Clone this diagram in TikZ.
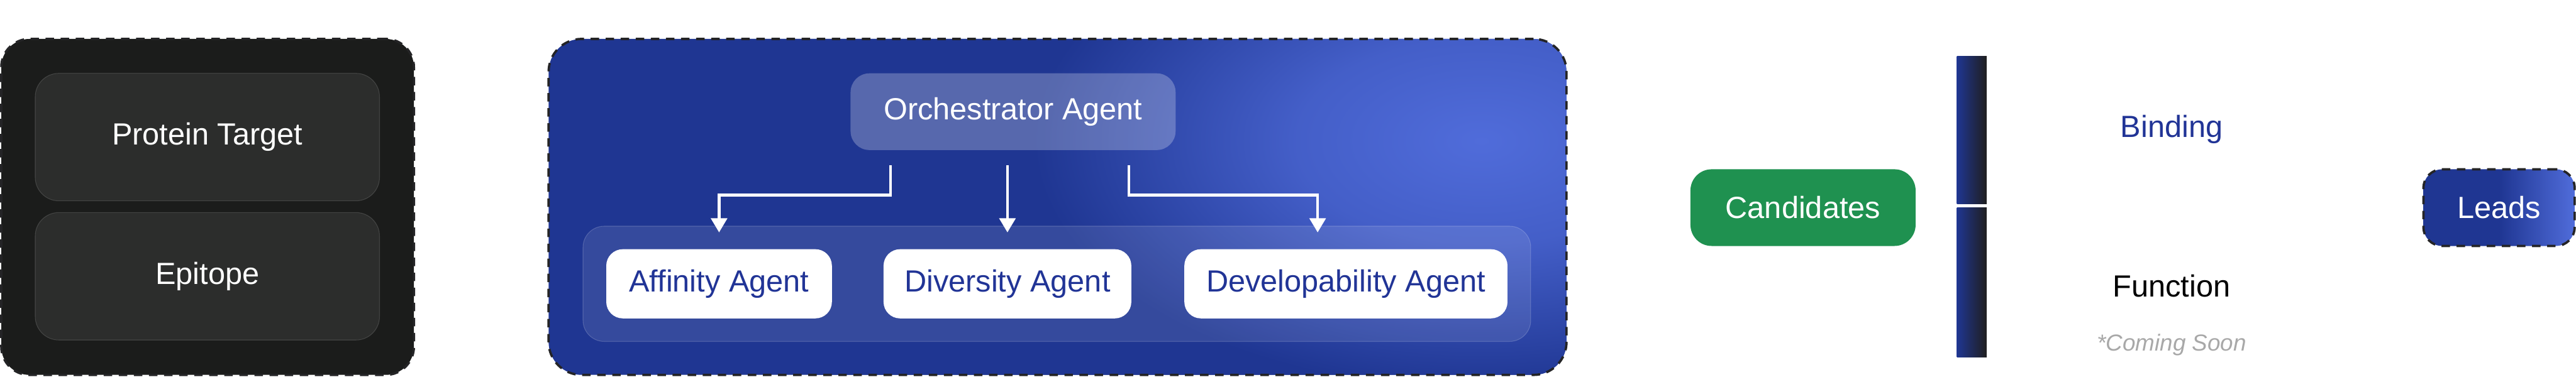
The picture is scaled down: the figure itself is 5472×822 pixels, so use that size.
\documentclass[tikz,border=0pt]{standalone}
\usepackage{fontspec}
\setmainfont{Liberation Sans}
\usetikzlibrary{arrows.meta, calc}
\definecolor{bleunuit}{RGB}{31,54,146}
\definecolor{bleuclair}{RGB}{80,108,218}
\definecolor{bleuencre}{RGB}{33,52,150}
\definecolor{noirdoux}{RGB}{27,28,27}
\definecolor{vertdoux}{RGB}{31,145,80}
\definecolor{trait}{RGB}{36,36,38}
\definecolor{grisdoux}{RGB}{168,168,168}
\pgfdeclareradialshading{lueur}{\pgfpoint{0bp}{0bp}}{color(0bp)=(bleuclair); color(5bp)=(bleuclair!75!bleunuit); color(12bp)=(bleunuit); color(50bp)=(bleunuit)}

\begin{document}
\begin{tikzpicture}[x=0.01cm, y=-0.01cm, font=\fontsize{18.5}{22}\selectfont,
    cadre/.style={draw=trait, line width=1.4pt, dash pattern=on 0.18cm off 0.14cm, inner sep=0pt},
    bloc/.style={fill=white, fill opacity=0.08, text opacity=1, draw=white, draw opacity=0.14,
      rounded corners=0.5cm, text=white, minimum width=7.31cm, minimum height=2.71cm},
    agent/.style={fill=white, rounded corners=0.35cm, text=bleuencre, minimum height=1.47cm},
    barre/.style={shade, left color=bleunuit, right color=black!88, minimum width=0.63cm, inner sep=0pt},
    fleche/.style={draw=white, line width=1.6pt, -{Triangle[width=0.34cm,length=0.3cm]}}]
  \useasboundingbox (0,0) rectangle (5472,822);
  % inputs
  \node[cadre, fill=noirdoux, rounded corners=0.6cm, minimum width=8.76cm, minimum height=7.14cm] (inputs) at (441,440) {};
  \node[bloc] (target) at (440.5,291.5) {Protein Target};
  \node[bloc] (epitope) at (440.5,587.5) {Epitope};
  % evolution loop
  \node[cadre, fill=bleunuit, rounded corners=0.7cm, minimum width=21.61cm, minimum height=7.14cm,
    path picture={\shade[shading=lueur]
      ([yshift=-2.17cm]path picture bounding box.north east) ellipse (18cm and 11cm);}] (loop) at (2246.5,440) {};
  \node[fill=white, fill opacity=0.1, draw=white, draw opacity=0.18, rounded corners=0.45cm,
    minimum width=20.12cm, minimum height=2.45cm] (team) at (2245,603.5) {};
  \node[fill=white, fill opacity=0.25, text opacity=1, text=white, rounded corners=0.4cm,
    minimum width=6.90cm, minimum height=1.63cm] (orch) at (2152,237.5) {Orchestrator Agent};
  \node[agent, minimum width=4.79cm] (aff) at (1527.5,603.5) {Affinity Agent};
  \node[agent, minimum width=5.26cm] (div) at (2140,603.5) {Diversity Agent};
  \node[agent, minimum width=6.86cm] (dev) at (2859,603.5) {Developability Agent};
  \draw[fleche, shorten <=0.32cm, shorten >=0.35cm] ([xshift=-2.6cm]orch.south) -- ++(0,95) -| (aff.north);
  \draw[fleche, shorten <=0.32cm, shorten >=0.35cm] (div.north |- orch.south) -- (div.north);
  \draw[fleche, shorten <=0.32cm, shorten >=0.35cm] ([xshift=2.46cm]orch.south) -- ++(0,95) -| ([xshift=-0.6cm]dev.north);
  % screen
  \node[fill=vertdoux, text=white, rounded corners=0.45cm, minimum width=4.78cm, minimum height=1.63cm] (cand) at (3830,441.5) {Candidates};
  \node[barre, minimum height=3.14cm] (bartop) at (4188.5,277) {};
  \node[barre, minimum height=3.18cm] (barbot) at (4188.5,600) {};
  \node[text=bleuencre] (binding) at (4613,275) {Binding};
  \node[text=black] (function) at (4613,608) {Function};
  \node[text=grisdoux, font=\fontsize{14}{17}\selectfont\itshape] (soon) at (4613,734) {*Coming Soon};
  % output
  \node[cadre, shade, left color=bleunuit, right color=bleuclair, middle color=bleunuit,
    rounded corners=0.4cm, minimum width=3.21cm, minimum height=1.63cm, text=white] (leads) at (5308.5,441.5) {Leads};
\end{tikzpicture}
\end{document}
